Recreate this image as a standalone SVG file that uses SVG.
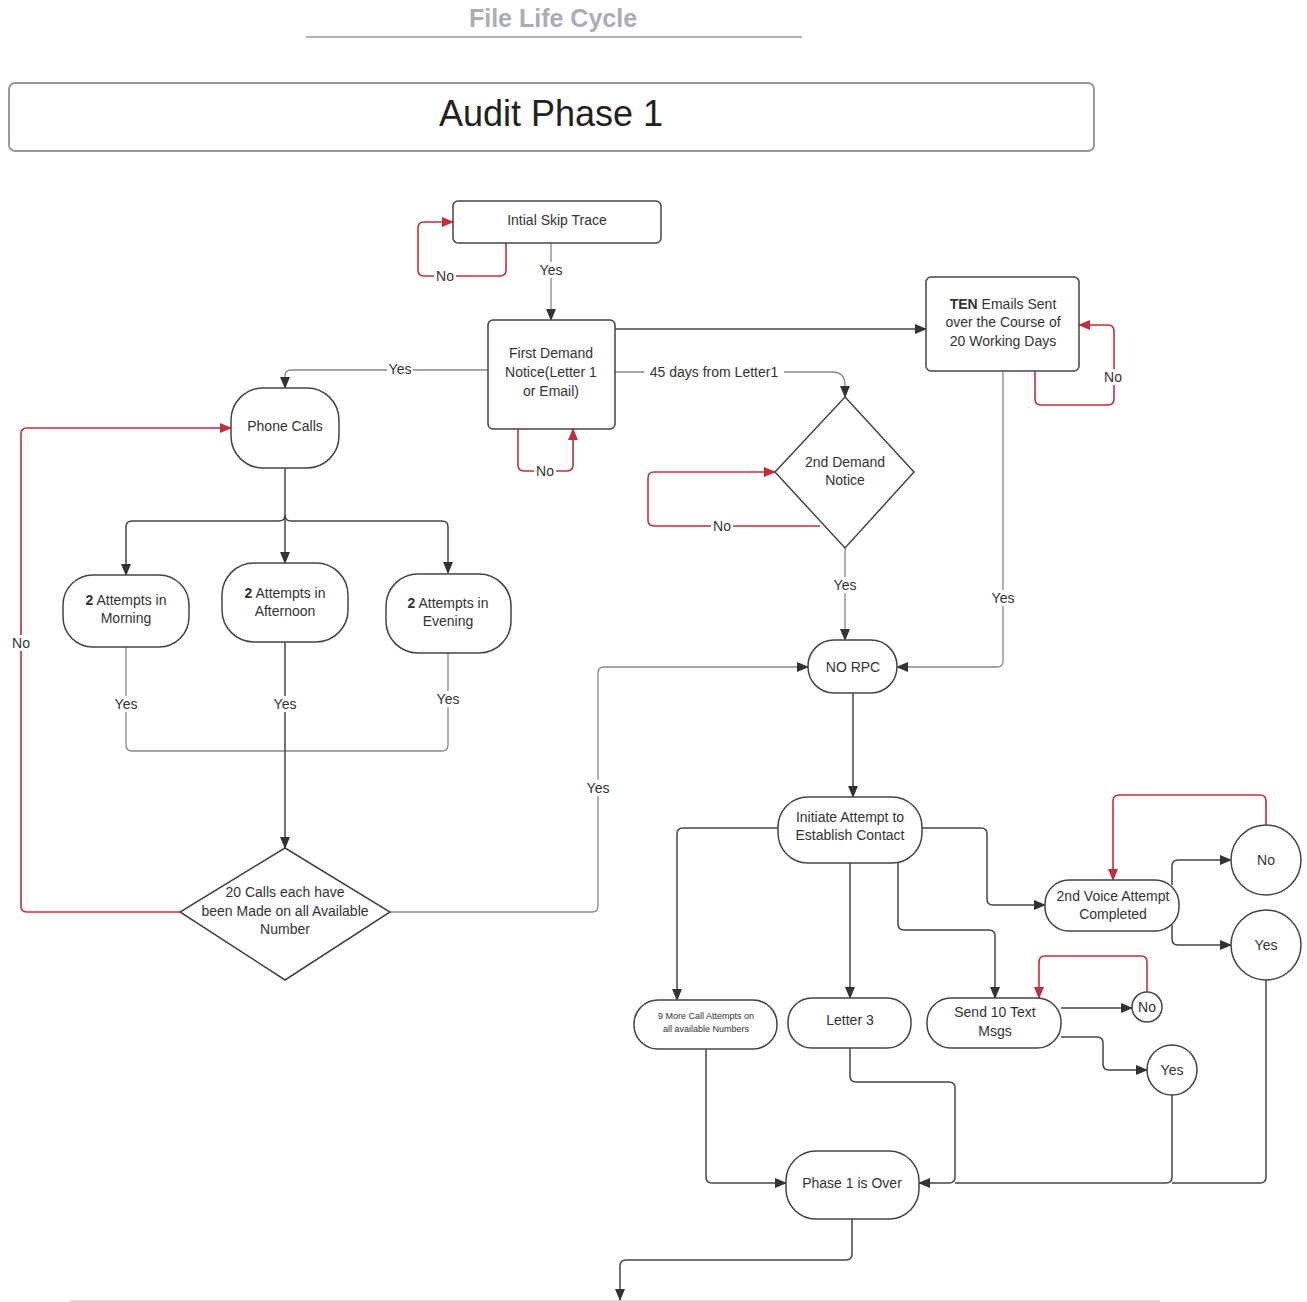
<svg xmlns="http://www.w3.org/2000/svg" width="1307" height="1302" viewBox="0 0 1307 1302">
<defs>
<marker id="ad" markerUnits="userSpaceOnUse" markerWidth="12" markerHeight="10" refX="11" refY="5" orient="auto"><path d="M0,0 L12,5 L0,10 Z" fill="#333"/></marker>
<marker id="ar" markerUnits="userSpaceOnUse" markerWidth="12" markerHeight="10" refX="11" refY="5" orient="auto"><path d="M0,0 L12,5 L0,10 Z" fill="#c62d3c"/></marker>
</defs>
<style>
text{font-family:"Liberation Sans",Arial,sans-serif;fill:#333;text-anchor:middle}
.n{font-size:14px}
.s{font-size:9px}
.node{fill:#fff;stroke:#444;stroke-width:1.5}
.c{fill:none;stroke:#444;stroke-width:1.5}
.g{fill:none;stroke:#888;stroke-width:1.3}
.r{fill:none;stroke:#c62d3c;stroke-width:1.6}
.lb{fill:#fff}
.lt{font-size:14px}
</style>
<rect width="1307" height="1302" fill="#fff"/>
<g id="header">
<text x="553" y="27" style="font-size:25px;font-weight:bold;fill:#a9aeb6">File Life Cycle</text>
<line x1="306" y1="37" x2="802" y2="37" stroke="#999" stroke-width="1.5"/>
<rect x="9" y="83" width="1085" height="68" rx="6" fill="#fff" stroke="#999" stroke-width="2"/>
<text x="551" y="126" style="font-size:36px;fill:#222">Audit Phase 1</text>
<line x1="70" y1="1301" x2="1160" y2="1301" stroke="#ccc" stroke-width="1.5"/>
</g>
<g id="connectors">
<path class="r" d="M506,243 V270 Q506,276 500,276 H424 Q418,276 418,270 V228 Q418,222 424,222 H453" marker-end="url(#ar)"/>
<path class="g" d="M551,243 V320" marker-end="url(#ad)"/>
<path class="r" d="M518,429 V465 Q518,471 524,471 H567 Q573,471 573,465 V429" marker-end="url(#ar)"/>
<path class="c" d="M615,329 H926" marker-end="url(#ad)"/>
<path class="g" d="M615,372 H832 Q845,372 845,385 V397" marker-end="url(#ad)"/>
<path class="r" d="M820,526 H654 Q648,526 648,520 V478 Q648,472 654,472 H775" marker-end="url(#ar)"/>
<path class="r" d="M1035,371 V399 Q1035,405 1041,405 H1108 Q1114,405 1114,399 V331 Q1114,325 1108,325 H1079" marker-end="url(#ar)"/>
<path class="g" d="M1003,371 V661 Q1003,667 997,667 H897" marker-end="url(#ad)"/>
<path class="g" d="M845,548 V640" marker-end="url(#ad)"/>
<path class="c" d="M853,693 V797" marker-end="url(#ad)"/>
<path class="g" d="M390,912 H592 Q598,912 598,906 V673 Q598,667 604,667 H808" marker-end="url(#ad)"/>
<path class="g" d="M488,370 H291 Q285,370 285,376 V388" marker-end="url(#ad)"/>
<path class="c" d="M285,468 V563" marker-end="url(#ad)"/>
<path class="c" d="M285,515 Q285,521 279,521 H132 Q126,521 126,527 V575" marker-end="url(#ad)"/>
<path class="c" d="M285,515 Q285,521 291,521 H442 Q448,521 448,527 V573" marker-end="url(#ad)"/>
<path class="g" d="M126,647 V745 Q126,751 132,751 H285"/>
<path class="g" d="M448,653 V745 Q448,751 442,751 H285"/>
<path class="c" d="M285,642 V848" marker-end="url(#ad)"/>
<path class="r" d="M180,912 H27 Q21,912 21,906 V434 Q21,428 27,428 H231" marker-end="url(#ar)"/>
<path class="c" d="M778,828 H683 Q677,828 677,834 V1000" marker-end="url(#ad)"/>
<path class="c" d="M850,863 V998" marker-end="url(#ad)"/>
<path class="c" d="M898,863 V924 Q898,930 904,930 H989 Q995,930 995,936 V998" marker-end="url(#ad)"/>
<path class="c" d="M922,828 H981 Q987,828 987,834 V899 Q987,905 993,905 H1045" marker-end="url(#ad)"/>
<path class="c" d="M1172,885 V866 Q1172,860 1178,860 H1231" marker-end="url(#ad)"/>
<path class="c" d="M1172,925 V939 Q1172,945 1178,945 H1231" marker-end="url(#ad)"/>
<path class="r" d="M1266,825 V801 Q1266,795 1260,795 H1119 Q1113,795 1113,801 V880" marker-end="url(#ar)"/>
<path class="c" d="M1061,1008 H1132" marker-end="url(#ad)"/>
<path class="r" d="M1147,992 V962 Q1147,956 1141,956 H1045 Q1039,956 1039,962 V998" marker-end="url(#ar)"/>
<path class="c" d="M1061,1037 H1097 Q1103,1037 1103,1043 V1064 Q1103,1070 1109,1070 H1147" marker-end="url(#ad)"/>
<path class="c" d="M706,1049 V1177 Q706,1183 712,1183 H786" marker-end="url(#ad)"/>
<path class="c" d="M850,1048 V1076 Q850,1082 856,1082 H949 Q955,1082 955,1088 V1177 Q955,1183 949,1183 H919" marker-end="url(#ad)"/>
<path class="c" d="M1172,1095 V1177 Q1172,1183 1166,1183 H955"/>
<path class="c" d="M1266,980 V1177 Q1266,1183 1260,1183 H1172"/>
<path class="c" d="M852,1219 V1254 Q852,1260 846,1260 H626 Q620,1260 620,1266 V1300" marker-end="url(#ad)"/>
<g id="labels">
<rect class="lb" x="434" y="268" width="22" height="16"/><text class="lt" x="445" y="281">No</text>
<rect class="lb" x="538" y="262" width="26" height="16"/><text class="lt" x="551" y="275">Yes</text>
<rect class="lb" x="534" y="463" width="22" height="16"/><text class="lt" x="545" y="476">No</text>
<rect class="lb" x="644" y="364" width="140" height="16"/><text class="lt" x="714" y="377">45 days from Letter1</text>
<rect class="lb" x="711" y="518" width="22" height="16"/><text class="lt" x="722" y="531">No</text>
<rect class="lb" x="1102" y="369" width="22" height="16"/><text class="lt" x="1113" y="382">No</text>
<rect class="lb" x="990" y="590" width="26" height="16"/><text class="lt" x="1003" y="603">Yes</text>
<rect class="lb" x="832" y="577" width="26" height="16"/><text class="lt" x="845" y="590">Yes</text>
<rect class="lb" x="585" y="780" width="26" height="16"/><text class="lt" x="598" y="793">Yes</text>
<rect class="lb" x="387" y="361" width="26" height="16"/><text class="lt" x="400" y="374">Yes</text>
<rect class="lb" x="113" y="696" width="26" height="16"/><text class="lt" x="126" y="709">Yes</text>
<rect class="lb" x="272" y="696" width="26" height="16"/><text class="lt" x="285" y="709">Yes</text>
<rect class="lb" x="435" y="691" width="26" height="16"/><text class="lt" x="448" y="704">Yes</text>
<rect class="lb" x="10" y="635" width="22" height="16"/><text class="lt" x="21" y="648">No</text>
</g>
</g>
<g id="skip"><rect class="node" x="453" y="201" width="208" height="42" rx="5"/><text class="n" x="557" y="225">Intial Skip Trace</text></g>
<g id="fdn"><rect class="node" x="488" y="320" width="127" height="109" rx="5"/><text class="n" x="551" y="358">First Demand</text><text class="n" x="551" y="377">Notice(Letter 1</text><text class="n" x="551" y="396">or Email)</text></g>
<g id="ten"><rect class="node" x="926" y="277" width="153" height="94" rx="5"/><text class="n" x="1003" y="309"><tspan font-weight="bold">TEN</tspan> Emails Sent</text><text class="n" x="1003" y="327">over the Course of</text><text class="n" x="1003" y="346">20 Working Days</text></g>
<g id="dn2"><path class="node" d="M845,397 L914,472 L845,548 L775,472 Z"/><text class="n" x="845" y="467">2nd Demand</text><text class="n" x="845" y="485">Notice</text></g>
<g id="norpc"><rect class="node" x="808" y="640" width="89" height="53" rx="26"/><text class="n" x="853" y="672">NO RPC</text></g>
<g id="phone"><rect class="node" x="231" y="388" width="108" height="80" rx="32"/><text class="n" x="285" y="431">Phone Calls</text></g>
<g id="morning"><rect class="node" x="63" y="575" width="126" height="72" rx="30"/><text class="n" x="126" y="605"><tspan font-weight="bold">2</tspan> Attempts in</text><text class="n" x="126" y="623">Morning</text></g>
<g id="afternoon"><rect class="node" x="222" y="563" width="126" height="79" rx="32"/><text class="n" x="285" y="598"><tspan font-weight="bold">2</tspan> Attempts in</text><text class="n" x="285" y="616">Afternoon</text></g>
<g id="evening"><rect class="node" x="386" y="574" width="125" height="79" rx="32"/><text class="n" x="448" y="608"><tspan font-weight="bold">2</tspan> Attempts in</text><text class="n" x="448" y="626">Evening</text></g>
<g id="calls20"><path class="node" d="M285,848 L390,912 L285,980 L180,912 Z"/><text class="n" x="285" y="897">20 Calls each have</text><text class="n" x="285" y="916">been Made on all Available</text><text class="n" x="285" y="934">Number</text></g>
<g id="initiate"><rect class="node" x="778" y="797" width="144" height="66" rx="30"/><text class="n" x="850" y="822">Initiate Attempt to</text><text class="n" x="850" y="840">Establish Contact</text></g>
<g id="more9"><rect class="node" x="634" y="1000" width="143" height="49" rx="24"/><text class="s" x="706" y="1019">9 More Call Attempts  on</text><text class="s" x="706" y="1032">all available Numbers</text></g>
<g id="letter3"><rect class="node" x="788" y="998" width="123" height="50" rx="24"/><text class="n" x="850" y="1025">Letter 3</text></g>
<g id="text10"><rect class="node" x="927" y="998" width="134" height="50" rx="24"/><text class="n" x="995" y="1017">Send 10 Text</text><text class="n" x="995" y="1036">Msgs</text></g>
<g id="voice2"><rect class="node" x="1045" y="880" width="134" height="51" rx="24"/><text class="n" x="1113" y="901">2nd Voice Attempt</text><text class="n" x="1113" y="919">Completed</text></g>
<g id="vno"><circle class="node" cx="1266" cy="860" r="35"/><text class="n" x="1266" y="865">No</text></g>
<g id="vyes"><circle class="node" cx="1266" cy="945" r="35"/><text class="n" x="1266" y="950">Yes</text></g>
<g id="tno"><circle class="node" cx="1147" cy="1007" r="15"/><text class="n" x="1147" y="1012">No</text></g>
<g id="tyes"><circle class="node" cx="1172" cy="1070" r="25"/><text class="n" x="1172" y="1075">Yes</text></g>
<g id="phase"><rect class="node" x="786" y="1151" width="133" height="68" rx="30"/><text class="n" x="852" y="1188">Phase 1 is Over</text></g>
</svg>
